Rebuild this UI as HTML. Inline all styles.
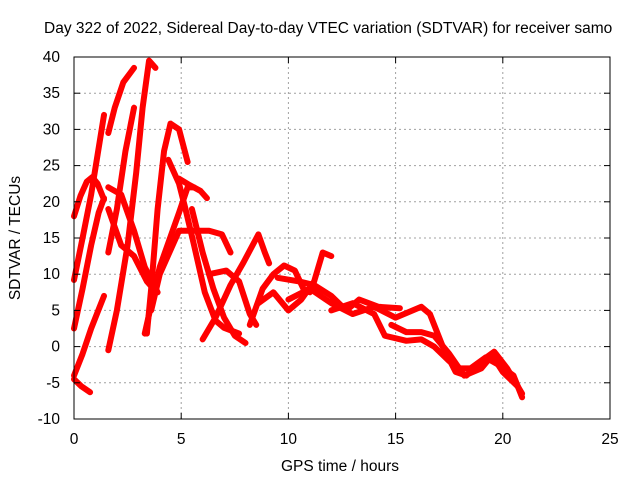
<!DOCTYPE html>
<html><head><meta charset="utf-8"><style>
body{margin:0;background:#fff}
svg{display:block;font-family:"Liberation Sans",sans-serif;font-size:15.5px}
</style></head><body>
<svg id="chart" width="640" height="480">
<rect width="640" height="480" fill="#fff"/>
<text x="44" y="33">Day 322 of 2022, Sidereal Day-to-day VTEC variation (SDTVAR) for receiver samo</text>
<g id="grid"></g>
<g id="series"></g>
<rect x="74" y="57" width="536" height="362" fill="none" stroke="#000" stroke-width="1"/>
<g id="axes"></g>
<text x="20" y="238" transform="rotate(-90 20 238)" text-anchor="middle">SDTVAR / TECUs</text>
<text x="340" y="471" text-anchor="middle">GPS time / hours</text>
</svg>
<script>
const xTicks=[0,5,10,15,20,25];
const yTicks=[-10,-5,0,5,10,15,20,25,30,35,40];
const s1=[[0,18],[0.3,20.8],[0.6,22.8],[0.85,23.4],[1.1,22.5],[1.4,20.3]];
const s2=[[0,9.2],[0.4,15],[0.8,21],[1.1,26.5],[1.4,32]];
const s3=[[0,2.5],[0.4,8],[0.8,14],[1.15,18.5],[1.4,20.5]];
const s4=[[0,-4],[0.4,-1],[0.8,2.5],[1.2,5.5],[1.4,7]];
const s5=[[0,-4.5],[0.35,-5.5],[0.75,-6.3]];
const s6=[[1.6,-0.5],[2.0,5],[2.5,14],[2.9,24],[3.2,33],[3.5,39.5],[3.8,38.5]];
const s7=[[1.6,29.5],[1.9,33],[2.3,36.5],[2.8,38.5]];
const s8=[[1.6,13],[2.0,19],[2.4,27],[2.8,33]];
const s9=[[3.4,1.8],[3.6,8],[3.9,19],[4.2,27],[4.5,30.8],[4.9,30],[5.3,25.5]];
const s10=[[1.6,22],[2.2,21],[2.8,16],[3.3,11],[3.9,7.5]];
const s11=[[1.6,19],[2.2,14],[2.8,12.5],[3.4,9],[3.7,8]];
const s12=[[4.4,25.8],[4.9,22.5],[5.2,19],[5.6,14],[6.1,7.5],[6.6,3.6],[7.0,2.6],[7.7,1.8]];
const s13=[[4.9,23.2],[5.4,22.3],[5.9,21.5],[6.2,20.5]];
const s14=[[3.3,1.8],[4.0,11],[4.9,18.5],[5.3,22],[5.6,22]];
const s15=[[3.6,5],[4.0,10],[4.9,16],[5.5,16],[6.3,16],[6.9,15.5],[7.3,13]];
const s16=[[6.0,1],[6.6,4],[7.3,8.5],[7.9,11.6],[8.6,15.5],[8.9,13],[9.1,11.5]];
const s17=[[5.5,19],[6.0,13],[6.5,8],[7.0,4],[7.5,1.5],[8.0,0.5]];
const s18=[[6.3,10],[7.1,10.5],[7.7,9],[8.2,4.5],[8.5,3]];
const s19=[[8.2,3],[8.8,8],[9.3,10],[9.8,11.2],[10.3,10.5],[10.7,8],[11.0,7.5]];
const s20=[[8.6,6],[9.3,7.5],[10.0,5],[10.6,6.5],[11.2,9],[11.6,13],[12.0,12.5]];
const s21=[[9.5,9.5],[10.5,9],[11.2,8.5],[12,7],[12.7,5],[13.3,6.5],[14.2,5.5],[15.2,5.3]];
const s22=[[10.0,6.5],[11,8],[12,6],[13,4.5],[14,5.5],[15,4],[16.2,5.5],[16.6,4.5],[17.2,0],[17.8,-3.5],[18.3,-4],[19,-2],[19.6,-0.7],[20.2,-3],[20.9,-6.5]];
const s23=[[12,5],[13,6],[14,4.5],[14.5,1.5],[15.5,0.8],[16.2,1],[16.8,0],[17.5,-2],[18,-3],[18.5,-3],[19.2,-1.5],[19.8,-2.5],[20.5,-4],[20.9,-7]];
const s24=[[14.8,3],[15.5,2],[16.2,2],[16.8,1.5],[17.5,-1],[18.2,-4],[19,-3],[19.5,-1.2],[20,-3.5],[20.7,-5.5]];
const allSeries=[s1,s2,s3,s4,s5,s6,s7,s8,s9,s10,s11,s12,s13,s14,s15,s16,s17,s18,s19,s20,s21,s22,s23,s24];

const NS="http://www.w3.org/2000/svg";
const X0=74,X1=610,Y0=419,Y1=57;
function xs(v){return X0+(v-0)/(25-0)*(X1-X0);}
function ys(v){return Y0-(v-(-10))/(40-(-10))*(Y0-Y1);}
const grid=document.getElementById('grid'),axes=document.getElementById('axes'),ser=document.getElementById('series');
function mk(t,a,p){const e=document.createElementNS(NS,t);for(const k in a)e.setAttribute(k,a[k]);p.appendChild(e);return e;}
xTicks.forEach(t=>{
  const x=xs(t);
  if(t>0&&t<25){const g=mk('line',{x1:x,x2:x,y1:Y1,y2:Y0,stroke:'#a0a0a0','stroke-dasharray':'2,3'},grid);
  
  }
  mk('line',{x1:x,x2:x,y1:Y0,y2:Y0-6,stroke:'#000'},axes);
  mk('line',{x1:x,x2:x,y1:Y1,y2:Y1+6,stroke:'#000'},axes);
  const l=mk('text',{x:x,y:Y0+25,'text-anchor':'middle'},axes);l.textContent=t;
  
  
});
yTicks.forEach(t=>{
  const y=ys(t);
  if(t>-10&&t<40){const g=mk('line',{x1:X0,x2:X1,y1:y,y2:y,stroke:'#a0a0a0','stroke-dasharray':'2,3'},grid);
  
  }
  mk('line',{x1:X0,x2:X0+6,y1:y,y2:y,stroke:'#000'},axes);
  mk('line',{x1:X1,x2:X1-6,y1:y,y2:y,stroke:'#000'},axes);
  const l=mk('text',{x:X0-14,y:y+5,'text-anchor':'end'},axes);l.textContent=t;
  
  
});
allSeries.forEach((s,i)=>{
  const p=mk('polyline',{points:s.map(d=>xs(d[0])+','+ys(d[1])).join(' '),fill:'none',stroke:'#ff0000','stroke-width':6,'stroke-linejoin':'round','stroke-linecap':'round'},ser);
  
  
});
</script>
</body></html>
